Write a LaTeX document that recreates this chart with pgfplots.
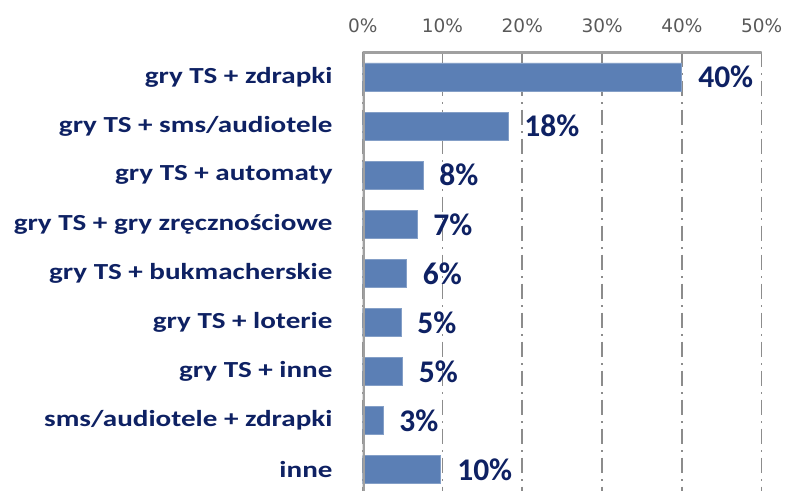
\documentclass[border=0pt]{standalone}
\usepackage{fontspec}
\setmainfont{Carlito}
\newfontfamily\labfont{Carlito}[FakeStretch=1.265]
\newfontfamily\tickfont{DejaVu Sans}
\usepackage{pgfplots}
\pgfplotsset{compat=1.18}
\usepackage{pgfplotstable}
\definecolor{navy}{HTML}{0E2163}
\definecolor{barblue}{HTML}{5B7FB5}
\definecolor{gridgray}{HTML}{8C8C8C}
\definecolor{axgray}{HTML}{A0A0A0}
\definecolor{tickgray}{HTML}{595959}
\pgfplotstableread{
x y lab
40.0 0 40
18.2 1 18
7.55 2 8
6.8 3 7
5.5 4 6
4.8 5 5
5.0 6 5
2.55 7 3
9.8 8 10
}\datatab
\begin{document}
\begin{tikzpicture}
\begin{axis}[
  scale only axis,
  width=399pt, height=439.3pt,
  xmin=0, xmax=50,
  ymin=-0.515, ymax=8.432,
  y dir=reverse,
  axis x line*=top, axis y line*=left,
  axis line style={draw=none},
  xtick={0,10,20,30,40,50},
  xticklabels={0\%,10\%,20\%,30\%,40\%,50\%},
  xticklabel style={font=\tickfont\fontsize{18.5}{22}\selectfont, text=tickgray, anchor=south, inner sep=0pt, yshift=19pt},
  ytick={0,...,8},
  yticklabels={gry TS + zdrapki, gry TS + sms/audiotele, gry TS + automaty, gry TS + gry zręcznościowe, gry TS + bukmacherskie, gry TS + loterie, gry TS + inne, sms/audiotele + zdrapki, inne},
  yticklabel style={font=\labfont\bfseries\fontsize{23}{27}\selectfont, text=navy, anchor=east, inner sep=0pt, xshift=-30pt},
  major tick length=0pt,
  xmajorgrids,
  grid style={gridgray, line width=1.6pt, dash pattern=on 15.5pt off 6pt on 1.5pt off 6pt},
  xbar, bar width=28pt,
  point meta=explicit symbolic,
  nodes near coords={\pgfplotspointmeta\%},
  nodes near coords style={font=\bfseries\fontsize{31.5}{36}\selectfont, text=navy, anchor=west, inner sep=0pt, xshift=16pt},
]
\addplot[fill=barblue, draw=barblue!75!white, line width=0.8pt] table[x=x, y=y, meta=lab] {\datatab};
\draw[axgray, line width=4pt] (axis description cs:0,0) -- (axis description cs:0,1) -- (axis description cs:1,1);
\coordinate (tl) at (axis description cs:0,1);
\end{axis}
\pgfresetboundingbox
\path[use as bounding box] ([shift={(-362.7pt,51.7pt)}]tl) rectangle ([shift={(425.3pt,-439.3pt)}]tl);
\end{tikzpicture}
\end{document}
